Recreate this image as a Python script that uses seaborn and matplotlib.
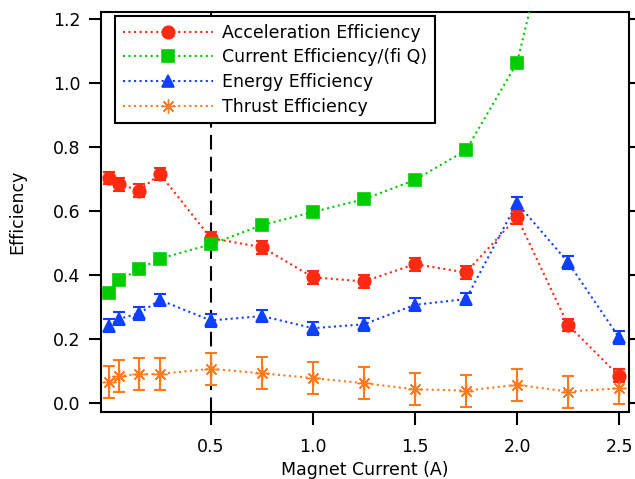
import numpy as np
import pandas as pd
import matplotlib
matplotlib.use("Agg")
import matplotlib.pyplot as plt
import seaborn as sns

# ---- data ----
magnet_current = [0.0, 0.05, 0.15, 0.25, 0.5, 0.75, 1.0, 1.25, 1.5, 1.75, 2.0, 2.25, 2.5]
accel_eff = [0.704, 0.685, 0.665, 0.717, 0.516, 0.488, 0.394, 0.381, 0.435, 0.409, 0.582, 0.245, 0.086]
accel_err = [0.02] * 13
current_eff = [0.344, 0.384, 0.420, 0.452, 0.497, 0.557, 0.598, 0.638, 0.698, 0.791, 1.064, 1.72, np.nan]
energy_eff = [0.243, 0.264, 0.282, 0.323, 0.259, 0.273, 0.235, 0.247, 0.308, 0.326, 0.626, 0.441, 0.206]
energy_err = [0.02] * 13
thrust_eff = [0.068, 0.086, 0.091, 0.092, 0.108, 0.094, 0.079, 0.063, 0.044, 0.040, 0.058, 0.037, 0.047]
thrust_err = [0.05] * 13

labels = ["Acceleration Efficiency", "Current Efficiency/(fi Q)", "Energy Efficiency", "Thrust Efficiency"]
x_ticks = [0.5, 1.0, 1.5, 2.0, 2.5]
y_ticks = [0.0, 0.2, 0.4, 0.6, 0.8, 1.0, 1.2]

sns.set_style("ticks")
plt.rcParams['font.family'] = ['DejaVu Sans']
plt.rcParams['text.color'] = 'black'
plt.rcParams['axes.labelcolor'] = 'black'

red = '#ff2a12'
green = '#00cc00'
blue = '#1040ff'
orange = '#ff7a1a'
FS = 12.5

fig = plt.figure(figsize=(6.35, 4.79), dpi=100)
ax = fig.add_axes([0.1586, 0.1405, 0.9906 - 0.1586, 0.975 - 0.1405])

ax.axvline(0.5, color='black', lw=1.5, linestyle=(0, (7, 3.5)), zorder=1)

series = [
    (accel_eff, accel_err, red, 'o', 9, 1.2),
    (current_eff, None, green, 's', 8.5, 1.2),
    (energy_eff, energy_err, blue, '^', 9, 1.2),
    (thrust_eff, thrust_err, orange, (8, 2, 0), 10, 1.0),
]

for (vals, err, col, mk, ms, mew), lab in zip(series, labels):
    df = pd.DataFrame({"x": magnet_current, "y": vals})
    if err is not None:
        ax.errorbar(magnet_current, vals, yerr=err, fmt='none', ecolor=col,
                    elinewidth=1.5, capsize=4.5, capthick=1.5, zorder=2)
    sns.lineplot(data=df, x="x", y="y", ax=ax, color=col, linestyle=':', lw=1.5,
                 marker=mk, markersize=ms, markeredgecolor=col, markeredgewidth=mew,
                 label=lab, zorder=3)

ax.set_xlim(-0.04, 2.549)
ax.set_ylim(-0.026, 1.223)
ax.set_xticks(x_ticks)
ax.set_xticklabels([f"{t:.1f}" for t in x_ticks])
ax.set_yticks(y_ticks)
ax.set_yticklabels([f"{t:.1f}" for t in y_ticks])
ax.tick_params(axis='both', direction='out', width=1.5, labelsize=FS, color='black', labelcolor='black')
ax.tick_params(axis='x', length=9, pad=10)
ax.tick_params(axis='y', length=9, pad=5.8, right=True, labelright=False)
for sp in ax.spines.values():
    sp.set_visible(True)
    sp.set_linewidth(1.5)
    sp.set_color('black')

ax.set_xlabel("Magnet Current (A)", fontsize=FS, labelpad=3.5, color='black')
ax.set_ylabel("Efficiency", fontsize=FS, labelpad=19, color='black')

leg = ax.legend(loc='upper left', bbox_to_anchor=(0.027, 0.99), borderaxespad=0,
                fontsize=FS, handlelength=5.2, labelspacing=0.38, handletextpad=0.5,
                frameon=True, fancybox=False, borderpad=0.45)
leg.get_frame().set_edgecolor('black')
leg.get_frame().set_linewidth(1.5)
leg.get_frame().set_alpha(1)
for t in leg.get_texts():
    t.set_color('black')

fig.savefig("out.png", dpi=100)
